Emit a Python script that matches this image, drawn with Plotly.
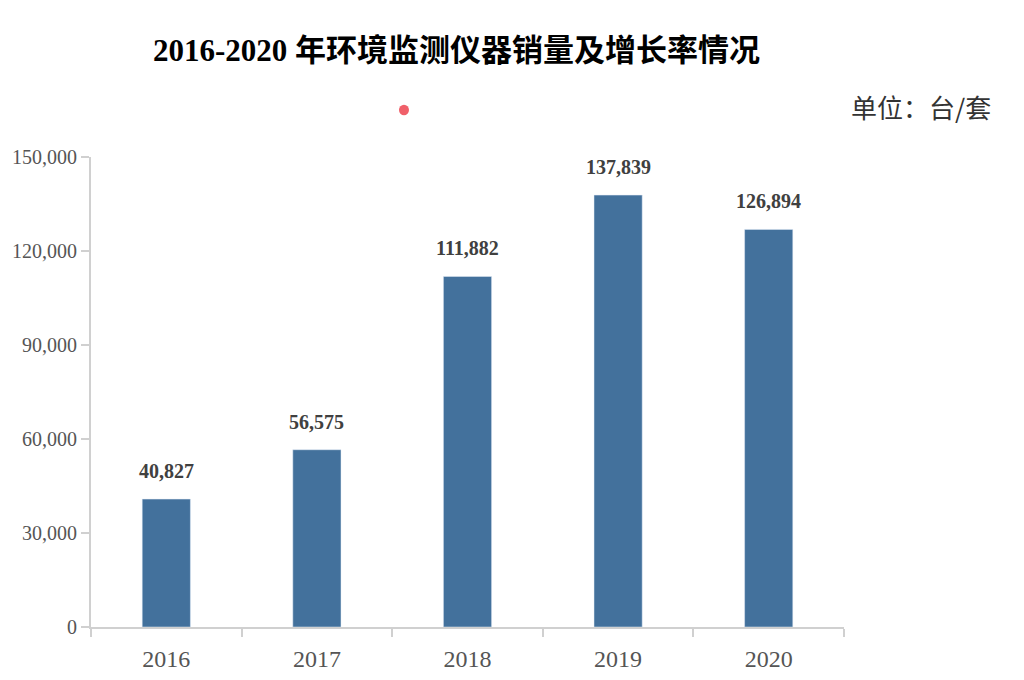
import plotly.graph_objects as go

# 数据
years = ["2016", "2017", "2018", "2019", "2020"]
sales = [40827, 56575, 111882, 137839, 126894]
y_ticks = [0, 30000, 60000, 90000, 120000, 150000]

bar_color = "#43719c"
serif = "Liberation Serif, Times New Roman, Noto Sans CJK SC, serif"

fig = go.Figure()
fig.add_trace(go.Bar(
    x=years, y=sales, marker_color=bar_color, width=0.32,
    showlegend=False, hoverinfo="x+y",
))

# 数据标签 (x 用类别序号)
for i, v in enumerate(sales):
    fig.add_annotation(
        x=i, y=v, text="<b>{:,}</b>".format(v), showarrow=False,
        yanchor="bottom", yshift=15,
        font=dict(family=serif, size=20, color="#404040"),
    )

fig.update_layout(
    width=1024, height=680,
    paper_bgcolor="white", plot_bgcolor="white",
    margin=dict(l=83, r=188, t=149, b=61),
    title=dict(
        text="<b>2016-2020 年环境监测仪器销量及增长率情况</b>",
        x=0.438, xanchor="center", y=0.938, yanchor="middle",
        font=dict(family=serif, size=31, color="#000000"),
    ),
)

# 单位
fig.add_annotation(
    xref="paper", yref="paper", x=1.198, y=1.108, xanchor="right", yanchor="middle",
    text="单位：台/套", showarrow=False,
    font=dict(family="Noto Sans CJK SC, serif", size=26, color="#333333"),
)
# 红点
fig.add_shape(
    type="circle", xref="paper", yref="paper",
    x0=0.409, x1=0.4223, y0=1.089, y1=1.111,
    fillcolor="#f0606a", line_width=0,
)

fig.update_xaxes(
    type="category", range=[-0.5, 4.5], automargin=False,
    showline=True, linecolor="#d0d0d0", linewidth=2,
    ticks="outside", tickson="boundaries", ticklen=8, tickcolor="#d0d0d0", tickwidth=2,
    ticklabelstandoff=9,
    tickfont=dict(family=serif, size=24, color="#555555"),
    showgrid=False,
)
fig.update_yaxes(
    range=[0, 150000], tickvals=y_ticks, automargin=False,
    ticktext=["{:,}".format(t) for t in y_ticks],
    showline=True, linecolor="#d0d0d0", linewidth=2,
    ticks="outside", ticklen=8, tickcolor="#d0d0d0", tickwidth=2,
    tickfont=dict(family=serif, size=20, color="#555555"),
    showgrid=False, zeroline=False,
)

fig.write_html("out.html")
